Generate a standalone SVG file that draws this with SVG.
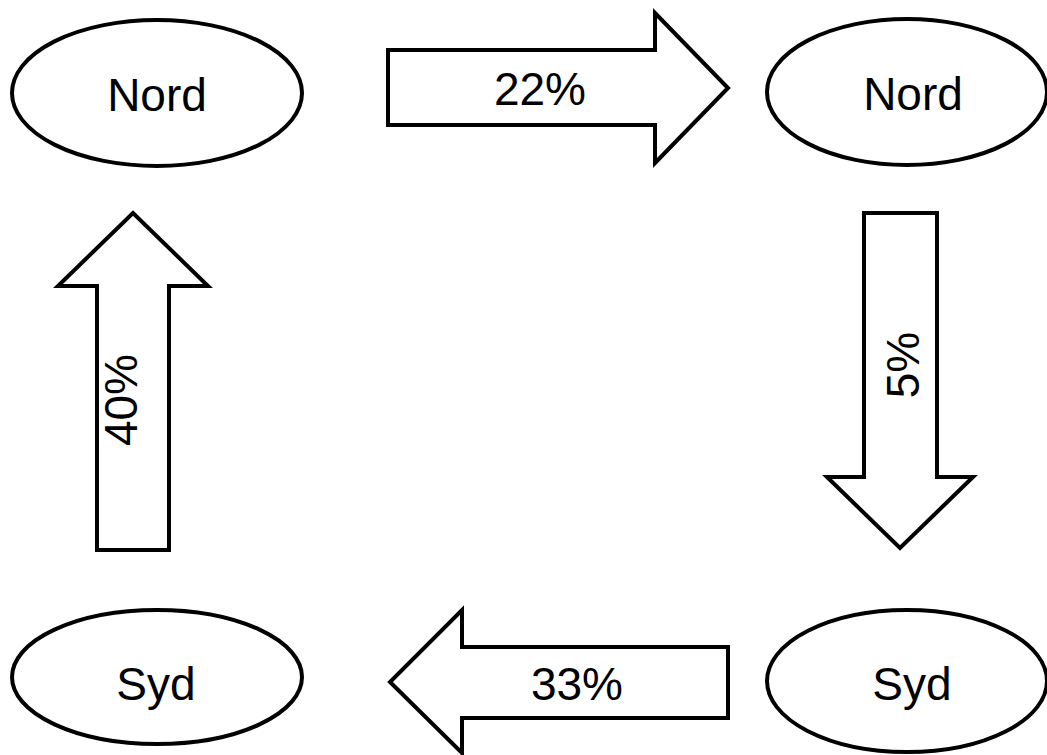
<svg xmlns="http://www.w3.org/2000/svg" width="1047" height="755" viewBox="0 0 1047 755">
<style>
.node{fill:#fff;stroke:#000;stroke-width:4}
.arrow{fill:#fff;stroke:#000;stroke-width:4;stroke-linejoin:miter}
text{font-family:"Liberation Sans",Arial,sans-serif;font-size:46px;fill:#000;text-anchor:middle}
</style>
<rect width="1047" height="755" fill="#fff"/>
<g id="nord-left">
<ellipse class="node" cx="157" cy="93" rx="145" ry="73"/>
<text x="157" y="111">Nord</text>
</g>
<g id="nord-right">
<ellipse class="node" cx="907" cy="92" rx="140" ry="73"/>
<text x="913" y="110">Nord</text>
</g>
<g id="syd-left">
<ellipse class="node" cx="157" cy="677" rx="145" ry="67"/>
<text x="156" y="700">Syd</text>
</g>
<g id="syd-right">
<ellipse class="node" cx="907" cy="681" rx="140" ry="71"/>
<text x="912" y="700">Syd</text>
</g>
<g id="connectors">
<g id="arrow-22">
<path class="arrow" d="M388,50 H655 V13 L728,88 L655,163 V125 H388 Z"/>
<text x="540" y="105">22%</text>
</g>
<g id="arrow-5">
<path class="arrow" d="M864,213 H937 V477 H973 L900,548 L827,477 H864 Z"/>
<text x="919" y="365" transform="rotate(-90 919 365)">5%</text>
</g>
<g id="arrow-33">
<path class="arrow" d="M728,647 H462 V610 L390,682 L462,753 V718 H728 Z"/>
<text x="577" y="700">33%</text>
</g>
<g id="arrow-40">
<path class="arrow" d="M97,550 V286 H58 L133,213 L208,286 H169 V550 Z"/>
<text x="137" y="400" transform="rotate(-90 137 400)">40%</text>
</g>
</g>
</svg>
